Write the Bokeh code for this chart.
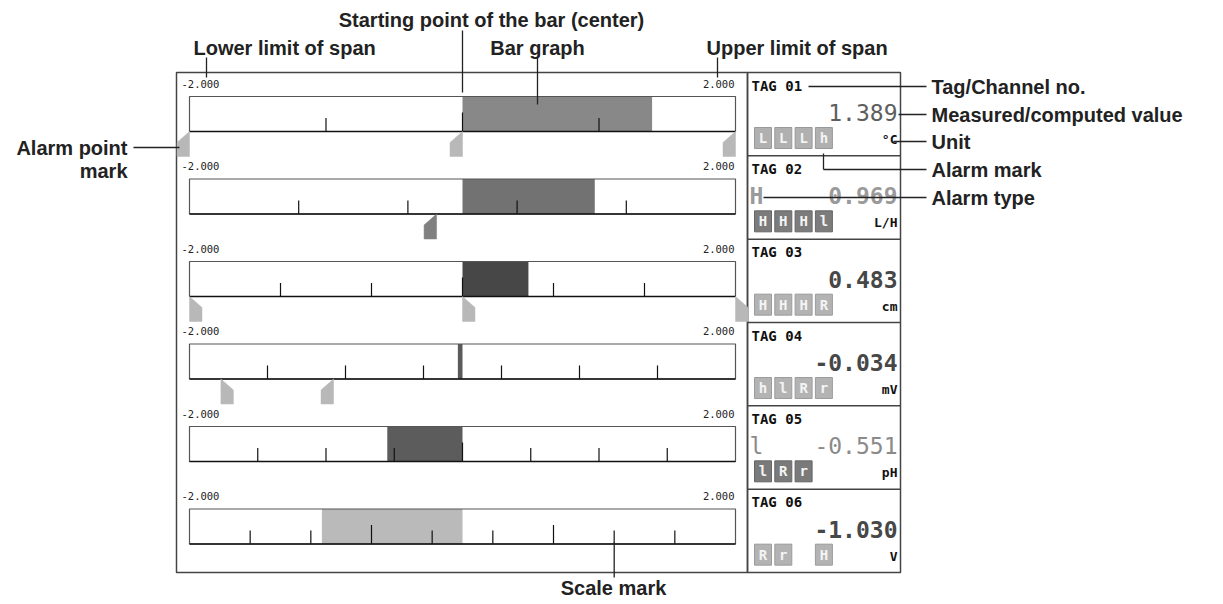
from bokeh.plotting import figure
from bokeh.models import Range1d
from bokeh.embed import file_html
from bokeh.resources import INLINE
from bokeh.core.properties import value as V

# ---------------- data ----------------
tags = ["TAG 01", "TAG 02", "TAG 03", "TAG 04", "TAG 05", "TAG 06"]
values = [1.389, 0.969, 0.483, -0.034, -0.551, -1.030]
span_lo = [-2.0, -2.0, -2.0, -2.0, -2.0, -2.0]
span_hi = [2.0, 2.0, 2.0, 2.0, 2.0, 2.0]
bar_start = 0.0
units = ["°C", "L/H", "cm", "mV", "pH", "V"]
scale_divs = [4, 5, 6, 7, 8, 9]
major_ticks = [[2], [], [3], [], [4], [3, 6]]
alarm_type = ["", "H", "", "", "l", ""]
alarm_boxes = [["L", "L", "L", "h"], ["H", "H", "H", "l"], ["H", "H", "H", "R"],
               ["h", "l", "R", "r"], ["l", "R", "r", ""], ["R", "r", "", "H"]]
alarm_points = [[-2.0, 0.0, 2.0], [-0.19], [-2.0, 0.0, 2.0], [-1.77, -0.945], [], []]
alarm_dirs = [["left", "left", "left"], ["left"], ["right", "right", "right"],
              ["right", "left"], [], []]

# ---------------- styles ----------------
bar_colors = ["#888888", "#727272", "#474747", "#5a5a5a", "#5c5c5c", "#bababa"]
value_colors = ["#5e5e5e", "#9a9a9a", "#474747", "#474747", "#8a8a8a", "#474747"]
value_styles = ["normal", "bold", "bold", "bold", "normal", "bold"]
mark_colors = ["#b8b8b8", "#808080", "#b8b8b8", "#b8b8b8", "#b8b8b8", "#b8b8b8"]
box_fill = ["#b0b0b0", "#7c7c7c", "#b3b3b3", "#b3b3b3", "#7a7a7a", "#b3b3b3"]
box_line = ["#999999", "#666666", "#9c9c9c", "#9c9c9c", "#666666", "#9c9c9c"]

MONO = V("DejaVu Sans Mono")
SANS = V("Liberation Sans")

# geometry (reference pixel coordinates)
W, H = 1223, 604
S = 546 / 4.0                 # px per unit along the bars
VX0 = -2 - 189 / S
VX1 = VX0 + W / S
ROW_PITCH = 82.5
BAR_TOP0 = 96.0
BAR_H = 35.0
LABEL_Y0 = 83.0
CELL_TOP = 72.0
CELL_H = 500 / 6.0

p = figure(width=W, height=H, x_range=Range1d(0, W), y_range=Range1d(H, 0),
           output_backend="svg", toolbar_location=None, min_border=0)
p.axis.visible = False
p.grid.visible = False
p.outline_line_color = None
p.background_fill_color = "white"
p.border_fill_color = "white"
p.extra_x_ranges = {"val": Range1d(VX0, VX1)}

# outer frames
p.quad(left=[176], right=[747], top=[72], bottom=[572], fill_alpha=0,
       line_color="#444444", line_width=1.5)
p.quad(left=[747], right=[900], top=[72], bottom=[572], fill_alpha=0,
       line_color="#444444", line_width=1.5)
p.segment(x0=[747] * 5, x1=[900] * 5, y0=[CELL_TOP + CELL_H * i for i in range(1, 6)],
          y1=[CELL_TOP + CELL_H * i for i in range(1, 6)], line_color="#444444", line_width=1.5)

for i in range(6):
    top = BAR_TOP0 + ROW_PITCH * i
    bot = top + BAR_H
    ly = LABEL_Y0 + ROW_PITCH * i
    # span labels
    p.text(x=[span_lo[i]], y=[ly], text=[f"{span_lo[i]:.3f}"], x_range_name="val",
           x_offset=-8, text_font=MONO, text_font_size="10.5px", text_align="left",
           text_baseline="middle", text_color="#222222")
    p.text(x=[span_hi[i]], y=[ly], text=[f"{span_hi[i]:.3f}"], x_range_name="val",
           x_offset=-1, text_font=MONO, text_font_size="10.5px", text_align="right",
           text_baseline="middle", text_color="#222222")
    # white box
    p.quad(left=[span_lo[i]], right=[span_hi[i]], top=[top], bottom=[bot],
           x_range_name="val", fill_color="white", line_color=None)
    # bar
    lo, hi = sorted([bar_start, values[i]])
    p.quad(left=[lo], right=[hi], top=[top], bottom=[bot], x_range_name="val",
           fill_color=bar_colors[i], line_color=None)
    # scale marks
    n = scale_divs[i]
    tx, ty0, ty1 = [], [], []
    for k in range(1, n):
        v = span_lo[i] + (span_hi[i] - span_lo[i]) * k / n
        tx.append(v)
        ty0.append(bot)
        ty1.append(bot - (19 if k in major_ticks[i] else 13.5))
    p.segment(x0=tx, x1=tx, y0=ty0, y1=ty1, x_range_name="val",
              line_color="#111111", line_width=1.2)
    # box outline
    p.quad(left=[span_lo[i]], right=[span_hi[i]], top=[top], bottom=[bot],
           x_range_name="val", fill_alpha=0, line_color="#555555", line_width=1.2)
    p.segment(x0=[span_lo[i]], x1=[span_hi[i]], y0=[bot], y1=[bot], x_range_name="val",
              line_color="#111111", line_width=1.6)
    # alarm point marks
    w = 12.5 / S
    xs, ys = [], []
    for v, d in zip(alarm_points[i], alarm_dirs[i]):
        e = v - w if d == "left" else v + w
        xs.append([v, e, e, v])
        ys.append([bot, bot + 11, bot + 25, bot + 25])
    if xs:
        p.patches(xs=xs, ys=ys, x_range_name="val", fill_color=mark_colors[i],
                  line_color=mark_colors[i], line_width=0.5)

    # ---- right panel cell ----
    ct = CELL_TOP + CELL_H * i
    p.text(x=[751], y=[ct + 13], text=[tags[i]], text_font=MONO, text_font_style="bold",
           text_font_size="14px", text_align="left", text_baseline="middle",
           text_color="#111111")
    p.text(x=[897], y=[ct + 40], text=[f"{values[i]:.3f}"], text_font=MONO,
           text_font_style=value_styles[i], text_font_size="23px", text_align="right",
           text_baseline="middle", text_color=value_colors[i])
    if alarm_type[i]:
        p.text(x=[749], y=[ct + 40], text=[alarm_type[i]], text_font=MONO,
               text_font_style=value_styles[i], text_font_size="23px", text_align="left",
               text_baseline="middle", text_color=value_colors[i])
    bl, br, bx, bt = [], [], [], []
    for k, t in enumerate(alarm_boxes[i]):
        if t:
            left = 754 + 20.3 * k
            bl.append(left)
            br.append(left + 17)
            bx.append(left + 8.5)
            bt.append(t)
    p.quad(left=bl, right=br, top=[ct + 55] * len(bl), bottom=[ct + 76] * len(bl),
           fill_color=box_fill[i], line_color=box_line[i], line_width=1)
    p.text(x=bx, y=[ct + 65.5] * len(bx), text=bt, text_font=MONO, text_font_style="bold",
           text_font_size="14px", text_align="center", text_baseline="middle",
           text_color="#f4f4f4")
    p.text(x=[897], y=[ct + 67], text=[units[i]], text_font=MONO, text_font_style="bold",
           text_font_size="13px", text_align="right", text_baseline="middle",
           text_color="#111111")

# ---------------- annotations ----------------
ann_text = ["Starting point of the bar (center)", "Lower limit of span", "Bar graph",
            "Upper limit of span", "Tag/Channel no.", "Measured/computed value", "Unit",
            "Alarm mark", "Alarm type", "Alarm point", "mark", "Scale mark"]
ann_x = [491, 193, 537, 706, 931, 931, 931, 931, 931, 127, 127, 613]
ann_y = [19, 47, 47, 47, 86, 114, 141, 169, 197, 147, 170, 587]
ann_align = ["center", "left", "center", "left", "left", "left", "left", "left", "left",
             "right", "right", "center"]
p.text(x=ann_x, y=ann_y, text=ann_text, text_align=ann_align, text_font=SANS,
       text_font_style="bold", text_font_size="20px", text_baseline="middle",
       text_color="#222222")
seg_x0 = [462, 206, 537, 717, 808, 898, 893, 823, 823, 763, 133, 613.7]
seg_x1 = [462, 206, 537, 717, 926, 926, 926, 823, 926, 926, 179, 613.7]
seg_y0 = [30, 57, 57, 57, 86, 114, 141, 153, 169, 197, 147, 542]
seg_y1 = [92, 77, 104, 77, 86, 114, 141, 169, 169, 197, 147, 577]
p.segment(x0=seg_x0, x1=seg_x1, y0=seg_y0, y1=seg_y1, line_color="#222222", line_width=1.3)

open("out.html", "w").write(file_html(p, INLINE))
